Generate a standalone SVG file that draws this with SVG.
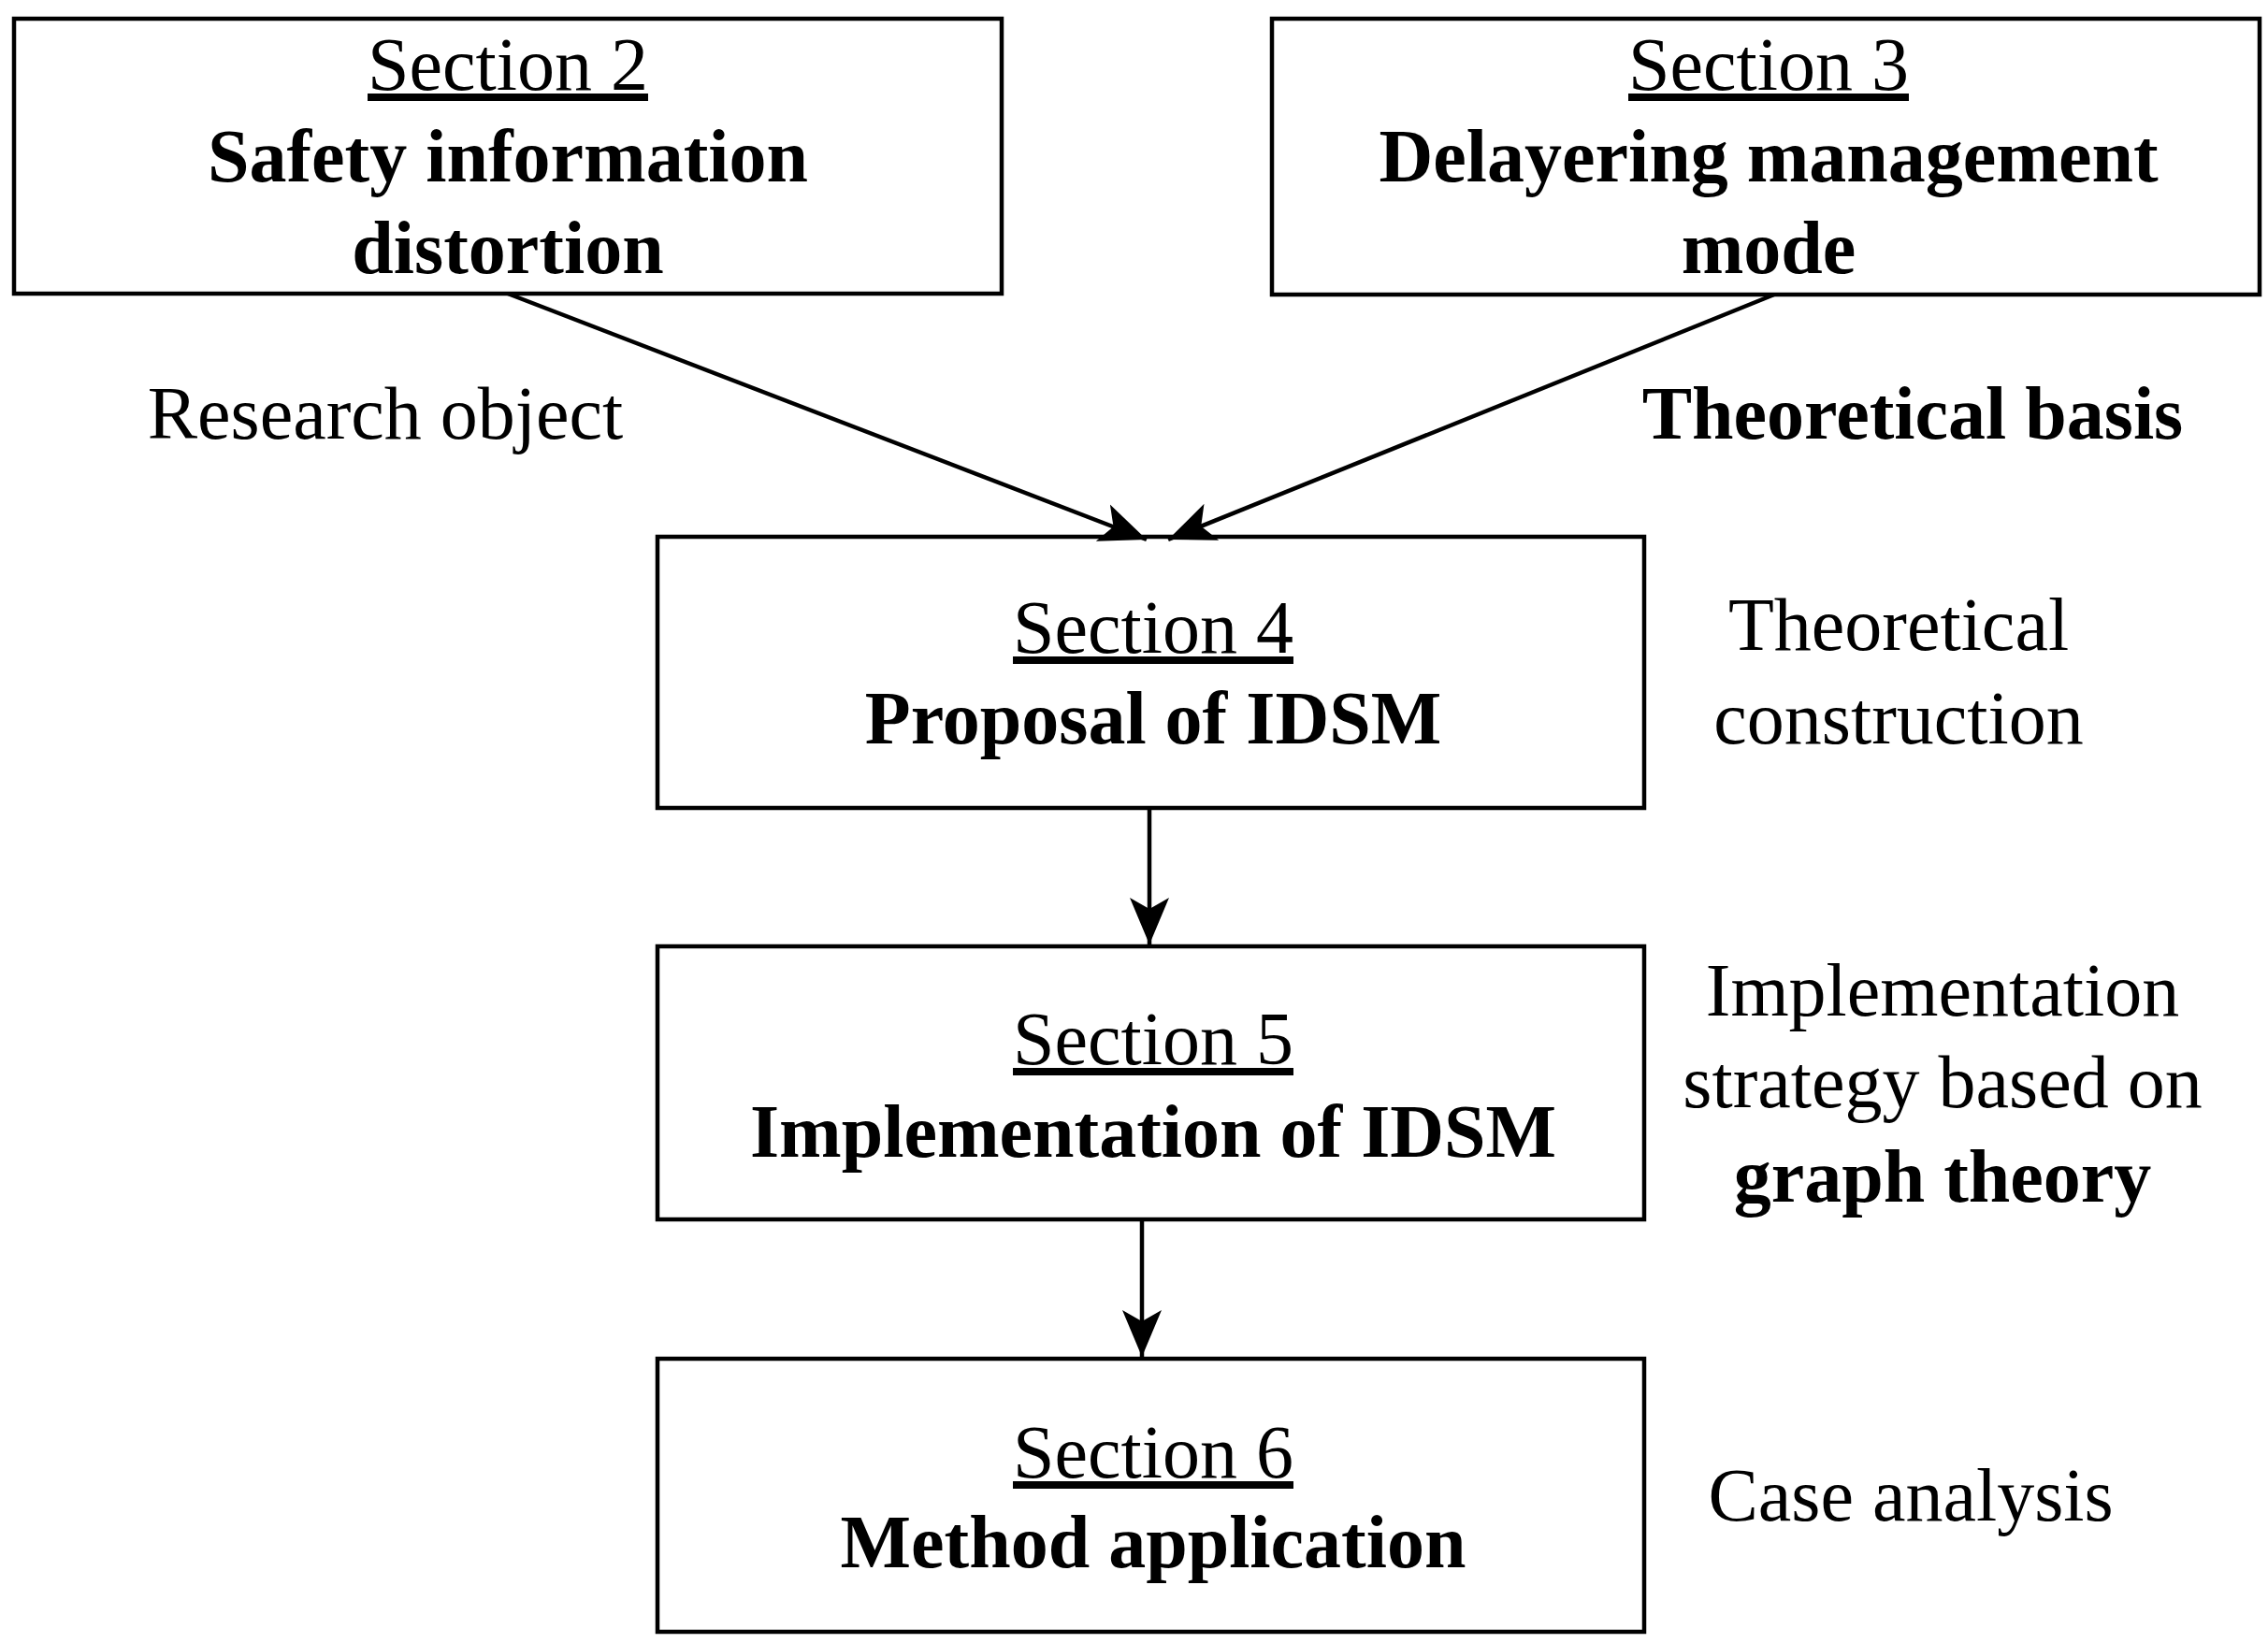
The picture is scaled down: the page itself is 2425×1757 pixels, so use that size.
<svg xmlns="http://www.w3.org/2000/svg" width="2425" height="1757" viewBox="0 0 2425 1757">
<style>
.box{fill:#fff;stroke:#000;stroke-width:4.5}
text{font-family:"Liberation Serif",serif;font-size:80px;fill:#000;text-anchor:middle}
.b{font-weight:bold}
.u{text-decoration:underline}
.c{stroke:#000;stroke-width:4.5;fill:none;marker-end:url(#ah)}
</style>
<defs><marker id="ah" markerUnits="userSpaceOnUse" markerWidth="60" markerHeight="50" refX="50" refY="25" orient="auto"><path d="M0,4 L50,25 L0,46 L12,25 Z" fill="#000"/></marker></defs>
<rect width="2425" height="1757" fill="#fff"/>
<g id="n2"><rect class="box" x="15" y="20" width="1056" height="294"/><text class="u" x="543" y="96">Section 2</text><text class="b" x="543" y="194">Safety information</text><text class="b" x="543" y="292">distortion</text></g>
<g id="n3"><rect class="box" x="1360" y="20" width="1056" height="295"/><text class="u" x="1891" y="96">Section 3</text><text class="b" x="1891" y="194">Delayering management</text><text class="b" x="1891" y="292">mode</text></g>
<g id="n4"><rect class="box" x="703" y="574" width="1055" height="290"/><text class="u" x="1233" y="698">Section 4</text><text class="b" x="1233" y="795">Proposal of IDSM</text></g>
<g id="n5"><rect class="box" x="703" y="1012" width="1055" height="292"/><text class="u" x="1233" y="1138">Section 5</text><text class="b" x="1233" y="1237">Implementation of IDSM</text></g>
<g id="n6"><rect class="box" x="703" y="1453" width="1055" height="292"/><text class="u" x="1233" y="1580">Section 6</text><text class="b" x="1233" y="1676">Method application</text></g>
<g id="labels">
<text x="412" y="469">Research object</text>
<text class="b" x="2045" y="469">Theoretical basis</text>
<text x="2030" y="695">Theoretical</text><text x="2030" y="795">construction</text>
<text x="2077" y="1086">Implementation</text><text x="2077" y="1184">strategy based on</text><text class="b" x="2077" y="1285">graph theory</text>
<text x="2043" y="1626">Case analysis</text>
</g>
<g id="connectors">
<line class="c" x1="543" y1="314" x2="1226" y2="577"/>
<line class="c" x1="1897" y1="315" x2="1249" y2="577"/>
<line class="c" x1="1229" y1="864" x2="1229" y2="1010"/>
<line class="c" x1="1221" y1="1304" x2="1221" y2="1451"/>
</g>
</svg>
